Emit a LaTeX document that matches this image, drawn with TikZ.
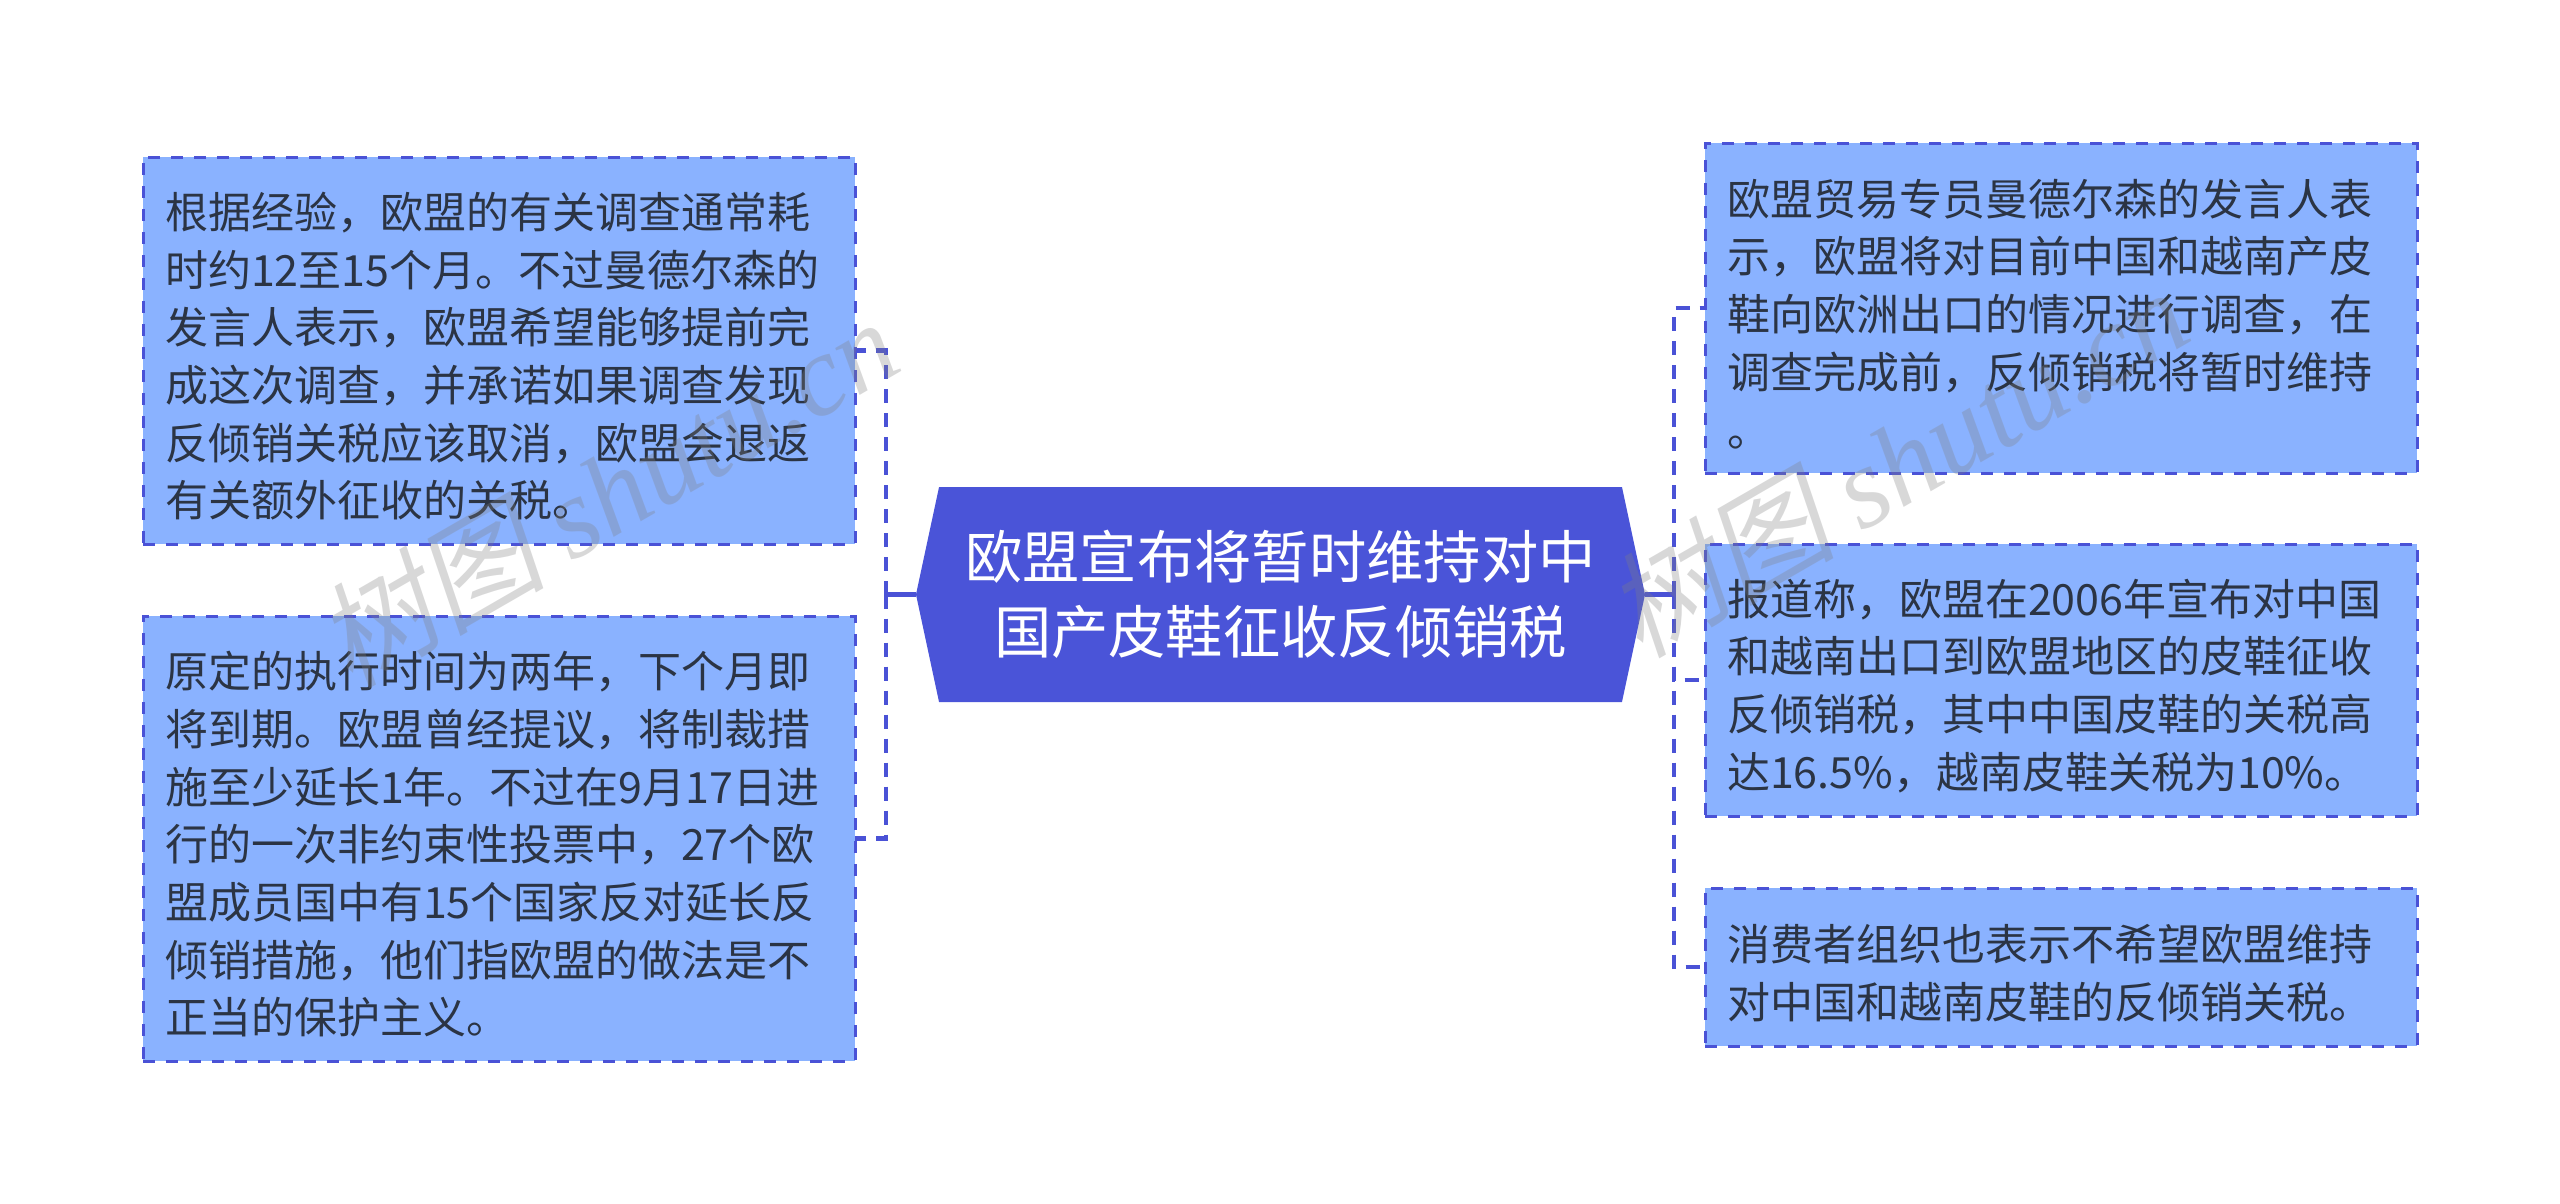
\documentclass[tikz,border=0pt]{standalone}
\usepackage{fontspec}
\setmainfont{Noto Sans CJK SC}
\newfontfamily\wmlatin[Ligatures=TeX]{Liberation Serif}
\newfontfamily\wmcjk[FakeSlant=0.2]{Noto Sans CJK SC}
\usetikzlibrary{shapes.symbols}
\definecolor{boxfill}{HTML}{8AB2FF}
\definecolor{edgeblue}{HTML}{4A52D6}
\definecolor{rootfill}{HTML}{4A54D8}
\definecolor{inktext}{HTML}{2B3444}
\newcommand{\leadin}{\rule{0pt}{48pt}}
\tikzset{
  x=1pt,y=-1pt,
  leaf/.style={rectangle,fill=boxfill,draw=edgeblue,line width=3pt,dash pattern=on 12pt off 11pt,
    text=inktext,align=left,anchor=north west,inner xsep=22pt,inner ysep=0pt,outer sep=0pt,text width=668pt,
    font=\fontsize{43}{57.7}\selectfont},
  rootnode/.style={signal,signal to=west and east,signal pointer angle=155.8,
    fill=rootfill,text=white,align=center,inner sep=0pt,outer sep=0pt,minimum width=729pt,minimum height=215pt,
    font=\fontsize{57.3}{75}\selectfont},
  solidlink/.style={draw=edgeblue,line width=4.5pt},
  dashlink/.style={draw=edgeblue,line width=4.5pt,dash pattern=on 14pt off 10pt},
  watermark/.style={text=gray,opacity=0.3,rotate=30,anchor=base west,inner sep=0pt,font=\fontsize{115}{115}\selectfont},
}
\begin{document}
\begin{tikzpicture}
\useasboundingbox (0,0) rectangle (2560,1203);
\fill[white] (0,0) rectangle (2560,1203);
\node[rootnode] (root) at (1280.5,594.5) {欧盟宣布将暂时维持对中\\国产皮鞋征收反倾销税};
\node[leaf,minimum height=387pt] (l1) at (143,157) {\leadin 根据经验，欧盟的有关调查通常耗\\时约12至15个月。不过曼德尔森的\\发言人表示，欧盟希望能够提前完\\成这次调查，并承诺如果调查发现\\反倾销关税应该取消，欧盟会退返\\有关额外征收的关税。};
\node[leaf,minimum height=445pt] (l2) at (143,616) {\leadin 原定的执行时间为两年，下个月即\\将到期。欧盟曾经提议，将制裁措\\施至少延长1年。不过在9月17日进\\行的一次非约束性投票中，27个欧\\盟成员国中有15个国家反对延长反\\倾销措施，他们指欧盟的做法是不\\正当的保护主义。};
\node[leaf,minimum height=330pt] (r1) at (1705,143) {\leadin 欧盟贸易专员曼德尔森的发言人表\\示，欧盟将对目前中国和越南产皮\\鞋向欧洲出口的情况进行调查，在\\调查完成前，反倾销税将暂时维持\\。};
\node[leaf,minimum height=272pt] (r2) at (1705,544) {\leadin 报道称，欧盟在2006年宣布对中国\\和越南出口到欧盟地区的皮鞋征收\\反倾销税，其中中国皮鞋的关税高\\达16.5\%，越南皮鞋关税为10\%。};
\node[leaf,minimum height=158pt] (r3) at (1705,888) {\leadin 消费者组织也表示不希望欧盟维持\\对中国和越南皮鞋的反倾销关税。};
\coordinate (lj) at (886,594.5);
\coordinate (rj) at (1674,594.5);
\draw[solidlink] (root.west) -- (lj);
\draw[solidlink] (root.east) -- (rj);
\draw[dashlink] (lj) |- (l1.east);
\draw[dashlink] (lj) |- (l2.east);
\draw[dashlink] (rj) |- (r1.west);
\draw[dashlink] (rj) |- (r2.west);
\draw[dashlink] (rj) |- (r3.west);
\node[watermark] (wm1) at (350,690) {{\wmcjk 树图} {\wmlatin\itshape shutu.cn}};
\node[watermark] (wm2) at (1640,660) {{\wmcjk 树图} {\wmlatin\itshape shutu.cn}};
\end{tikzpicture}
\end{document}
